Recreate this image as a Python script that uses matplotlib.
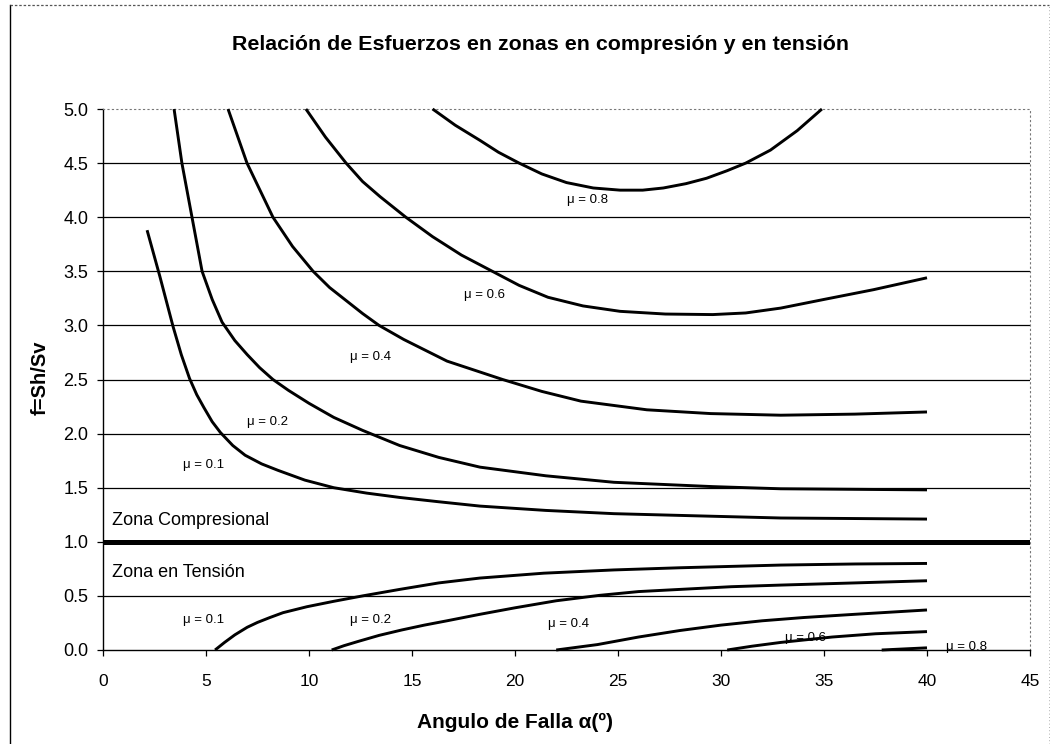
import matplotlib
matplotlib.use("Agg")
import matplotlib.pyplot as plt
from matplotlib.lines import Line2D

plt.rcParams['font.family'] = ['Liberation Sans', 'DejaVu Sans']

# ---------------- data ----------------
title = "Relación de Esfuerzos en zonas en compresión y en tensión"
x_label = "Angulo de Falla α(º)"
y_label = "f=Sh/Sv"
x_ticks = [0, 5, 10, 15, 20, 25, 30, 35, 40, 45]
y_ticks = [0.0, 0.5, 1.0, 1.5, 2.0, 2.5, 3.0, 3.5, 4.0, 4.5, 5.0]

# compression zone curves (f > 1)
comp_01_x = [2.14, 2.75, 3.4, 3.8, 4.2, 4.55, 4.9, 5.3, 5.7, 6.3, 6.9, 7.7, 8.5, 9.8, 11.2,
             12.8, 14.4, 16.3, 18.3, 21.5, 24.8, 28.8, 32.9, 36.5, 40.0]
comp_01_y = [3.88, 3.46, 2.99, 2.73, 2.51, 2.36, 2.24, 2.11, 2.01, 1.89, 1.80, 1.72, 1.66,
             1.57, 1.50, 1.45, 1.41, 1.37, 1.33, 1.29, 1.26, 1.24, 1.22, 1.215, 1.21]

comp_02_x = [3.45, 3.83, 4.32, 4.81, 5.3, 5.78, 6.4, 7.0, 7.6, 8.25, 9.0, 10.0, 11.2, 12.6,
             14.4, 16.3, 18.3, 21.5, 24.8, 29.6, 32.9, 36.5, 40.0]
comp_02_y = [5.0, 4.5, 4.0, 3.5, 3.24, 3.03, 2.86, 2.73, 2.61, 2.50, 2.40, 2.28, 2.15, 2.03,
             1.89, 1.78, 1.69, 1.61, 1.55, 1.51, 1.49, 1.485, 1.48]

comp_04_x = [6.07, 6.99, 8.25, 9.2, 10.2, 11.0, 11.8, 12.6, 13.4, 14.6, 16.7, 19.4, 21.3,
             23.2, 26.4, 29.5, 32.9, 36.5, 40.0]
comp_04_y = [5.0, 4.5, 4.0, 3.73, 3.5, 3.35, 3.23, 3.11, 3.0, 2.87, 2.67, 2.50, 2.39,
             2.30, 2.22, 2.185, 2.17, 2.18, 2.20]

comp_06_x = [9.85, 10.8, 11.8, 12.6, 13.45, 14.7, 16.0, 17.4, 18.9, 20.2, 21.6, 23.3, 25.1,
             27.3, 29.6, 31.2, 32.9, 35.0, 37.4, 40.0]
comp_06_y = [5.0, 4.74, 4.5, 4.33, 4.19, 4.0, 3.82, 3.65, 3.50, 3.37, 3.26, 3.18, 3.13,
             3.105, 3.10, 3.115, 3.16, 3.24, 3.33, 3.44]

comp_08_x = [16.0, 17.1, 18.3, 19.2, 20.2, 21.3, 22.5, 23.8, 25.1, 26.2, 27.2, 28.3, 29.3,
             30.3, 31.2, 32.4, 33.7, 34.9]
comp_08_y = [5.0, 4.85, 4.71, 4.60, 4.50, 4.40, 4.32, 4.27, 4.25, 4.25, 4.27, 4.31, 4.36,
             4.43, 4.50, 4.62, 4.80, 5.0]

# tension zone curves (f < 1)
tens_01_x = [5.44, 5.9, 6.4, 7.0, 7.5, 8.1, 8.74, 9.9, 11.2, 12.6, 14.4, 16.3, 18.3, 21.4,
             24.8, 28.0, 32.9, 36.5, 40.0]
tens_01_y = [0.0, 0.07, 0.14, 0.21, 0.255, 0.30, 0.345, 0.40, 0.45, 0.50, 0.56, 0.62, 0.665,
             0.71, 0.74, 0.76, 0.785, 0.795, 0.80]

tens_02_x = [11.1, 11.7, 12.4, 13.4, 14.5, 15.6, 16.7, 18.3, 20.0, 22.0, 24.1, 26.0, 28.0,
             30.5, 32.9, 36.5, 40.0]
tens_02_y = [0.0, 0.04, 0.08, 0.135, 0.185, 0.23, 0.27, 0.33, 0.39, 0.455, 0.505, 0.54, 0.56,
             0.585, 0.60, 0.62, 0.64]

tens_04_x = [22.0, 23.0, 24.0, 26.0, 28.0, 30.0, 32.0, 34.0, 36.5, 40.0]
tens_04_y = [0.0, 0.025, 0.05, 0.12, 0.18, 0.23, 0.27, 0.30, 0.33, 0.37]

tens_06_x = [30.3, 31.5, 32.9, 35.4, 37.5, 40.0]
tens_06_y = [0.0, 0.035, 0.07, 0.12, 0.15, 0.17]

tens_08_x = [37.8, 40.0]
tens_08_y = [0.0, 0.02]

mu_labels = ["μ = 0.1", "μ = 0.2", "μ = 0.4", "μ = 0.6", "μ = 0.8"]
comp_label_x = [4.9, 8.0, 13.0, 18.5, 23.5]
comp_label_y = [1.71, 2.11, 2.71, 3.28, 4.16]
tens_label_x = [4.9, 13.0, 22.6, 34.1, 41.9]
tens_label_y = [0.28, 0.28, 0.24, 0.11, 0.03]

zone_labels = ["Zona Compresional", "Zona en Tensión"]
zone_x = [0.44, 0.44]
zone_y = [1.20, 0.72]
boundary_f = 1.0

# ---------------- figure ----------------
W, H = 1054, 744
fig = plt.figure(figsize=(W / 100, H / 100), dpi=100)
fig.patch.set_facecolor('white')

# outer chart frame
fig.add_artist(Line2D([10 / W, 10 / W], [0, 1 - 5 / H], color='black', lw=1.0))
fig.add_artist(Line2D([10 / W, 1049 / W], [1 - 5 / H, 1 - 5 / H], color='#555555', lw=0.9,
                      linestyle=(0, (2, 1.5))))
fig.add_artist(Line2D([1049 / W, 1049 / W], [0, 1 - 5 / H], color='#999999', lw=0.6,
                      linestyle=(0, (1, 3))))

ax = fig.add_axes([103 / W, 1 - 650 / H, (1030 - 103) / W, (650 - 109) / H])
ax.set_xlim(x_ticks[0], x_ticks[-1])
ax.set_ylim(y_ticks[0], y_ticks[-1])

# horizontal gridlines
for yv in y_ticks[1:-1]:
    ax.axhline(yv, color='black', lw=0.9, zorder=1)
ax.axhline(boundary_f, color='black', lw=3.6, zorder=3)

comp = [(comp_01_x, comp_01_y), (comp_02_x, comp_02_y), (comp_04_x, comp_04_y),
        (comp_06_x, comp_06_y), (comp_08_x, comp_08_y)]
tens = [(tens_01_x, tens_01_y), (tens_02_x, tens_02_y), (tens_04_x, tens_04_y),
        (tens_06_x, tens_06_y), (tens_08_x, tens_08_y)]
for xs, ys in comp + tens:
    ax.plot(xs, ys, color='black', lw=2.1, solid_capstyle='butt', solid_joinstyle='round',
            zorder=4, clip_on=False)

for lab, xv, yv in zip(mu_labels, comp_label_x, comp_label_y):
    ax.text(xv, yv, lab, fontsize=9.5, ha='center', va='center', color='black')
for lab, xv, yv in zip(mu_labels, tens_label_x, tens_label_y):
    ax.text(xv, yv, lab, fontsize=9.5, ha='center', va='center', color='black')
for lab, xv, yv in zip(zone_labels, zone_x, zone_y):
    ax.text(xv, yv, lab, fontsize=13, ha='left', va='center', color='black')

# spines
ax.spines['left'].set_color('black')
ax.spines['left'].set_linewidth(1.0)
ax.spines['bottom'].set_color('black')
ax.spines['bottom'].set_linewidth(1.0)
for s in ('top', 'right'):
    ax.spines[s].set_color('#777777')
    ax.spines[s].set_linewidth(0.8)
    ax.spines[s].set_linestyle((0, (1, 3)))

ax.set_xticks(x_ticks)
ax.set_xticklabels([str(v) for v in x_ticks])
ax.set_yticks(y_ticks)
ax.set_yticklabels([f"{v:.1f}" for v in y_ticks])
ax.tick_params(axis='x', direction='out', length=4.5, width=0.9, pad=13, labelsize=12.5)
ax.tick_params(axis='y', direction='out', length=4.5, width=0.9, pad=6, labelsize=13)

fig.text(540 / W, 1 - 45 / H, title, fontsize=15.4, fontweight='bold', ha='center', va='center')
fig.text(515 / W, 1 - 722 / H, x_label, fontsize=15, fontweight='bold', ha='center', va='center')
fig.text(40 / W, 1 - 378 / H, y_label, fontsize=14.5, fontweight='bold', ha='center', va='center',
         rotation=90)

fig.savefig("out.png", dpi=100, facecolor='white')
